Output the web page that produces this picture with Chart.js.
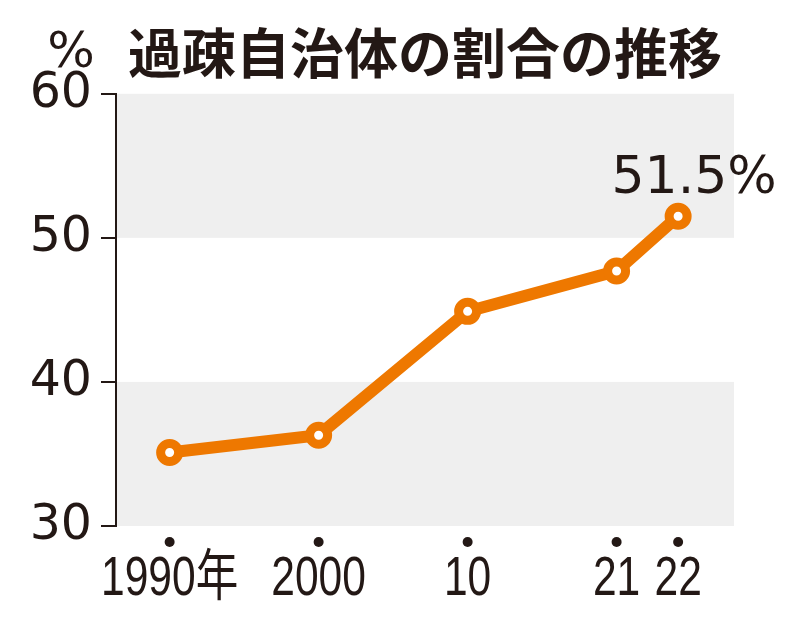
<!DOCTYPE html>
<html><head><meta charset="utf-8">
<script src="https://cdn.jsdelivr.net/npm/chart.js@4.4.1/dist/chart.umd.min.js"></script>
<style>html,body{margin:0;padding:0;background:#fff}canvas{display:block}</style>
</head><body>
<canvas id="c" width="800" height="625"></canvas>
<script>
// ---- data ----
const years = [1990, 2000, 2010, 2021, 2022];
const values = [35.1, 36.3, 44.9, 47.7, 51.5];
const xLabels = ['1990年', '2000', '10', '21', '22'];
const yTicks = [30, 40, 50, 60];
const bands = [[30, 40], [50, 60]];
const titleText = '過疎自治体の割合の推移';
const unitText = '%';

// ---- layout / style ----
const INK = '#231815';
const ORANGE = '#ee7800';
const GAP_LAST = 0.413;    // relative width of the final (2021-22) gap
const YEARS_PER_UNIT = 10; // extrapolation outside the listed years

function warpYear(v) {
  const a = years;
  if (v <= a[0]) return (v - a[0]) / YEARS_PER_UNIT;
  let u = 0;
  for (let i = 0; i < a.length - 1; i++) {
    const w = (i === a.length - 2) ? GAP_LAST : 1;
    if (v <= a[i + 1]) return u + w * (v - a[i]) / (a[i + 1] - a[i]);
    u += w;
  }
  return u + (v - a[a.length - 1]) / YEARS_PER_UNIT;
}

// Year axis: equal spacing between listed years, last gap narrower
class BrokenYearScale extends Chart.LinearScale {
  parse(raw, index) {
    if (raw === null || raw === undefined) return null;
    const v = +raw;
    if (!isFinite(v)) return null;
    return warpYear(v);
  }
}
BrokenYearScale.id = 'brokenyear';
BrokenYearScale.defaults = Chart.LinearScale.defaults;
Chart.register(BrokenYearScale);

const decor = {
  id: 'decor',
  beforeDraw(chart) {
    const {ctx, chartArea: ca, scales: {y}} = chart;
    ctx.save();
    ctx.fillStyle = '#efefef';
    bands.forEach(([lo, hi]) => {
      const t = y.getPixelForValue(hi), b = y.getPixelForValue(lo);
      ctx.fillRect(ca.left, t, ca.right - ca.left, b - t);
    });
    ctx.restore();
  },
  afterDraw(chart) {
    const {ctx, chartArea: ca, scales: {x}} = chart;
    ctx.save();
    ctx.fillStyle = INK;
    // x tick dots and condensed tick labels
    x.ticks.forEach((t, i) => {
      const px = x.getPixelForValue(t.value);
      ctx.beginPath();
      ctx.arc(px, ca.bottom + 16, 5, 0, Math.PI * 2);
      ctx.fill();
      ctx.save();
      ctx.translate(px, ca.bottom + 69);
      ctx.scale(0.76, 1);
      ctx.font = '56px "Liberation Sans", "Noto Sans CJK JP", sans-serif';
      ctx.textAlign = 'center';
      ctx.textBaseline = 'alphabetic';
      ctx.fillText(xLabels[i], 0, 0);
      ctx.restore();
    });
    ctx.font = '50px "DejaVu Sans"';
    ctx.textAlign = 'center';
    ctx.textBaseline = 'alphabetic';
    ctx.fillText(unitText, 71, 67);
    const meta = chart.getDatasetMeta(0);
    const p = meta.data[meta.data.length - 1];
    ctx.font = '52px "DejaVu Sans"';
    ctx.fillText(values[values.length - 1] + '%', p.x + 16, p.y - 23);
    ctx.restore();
  }
};

new Chart(document.getElementById('c'), {
  type: 'line',
  data: {
    datasets: [{
      data: years.map((yr, i) => ({x: yr, y: values[i]})),
      borderColor: ORANGE,
      borderWidth: 12,
      pointRadius: 9,
      pointBorderWidth: 9,
      pointBackgroundColor: '#ffffff',
      pointBorderColor: ORANGE,
      tension: 0,
      clip: false
    }]
  },
  options: {
    responsive: false,
    animation: false,
    devicePixelRatio: 1,
    layout: {padding: {left: 0, right: 66, top: 0, bottom: 0}},
    plugins: {
      legend: {display: false},
      tooltip: {enabled: false},
      title: {
        display: true,
        text: titleText,
        fullSize: false,
        color: INK,
        font: {family: '"Noto Sans CJK JP"', size: 54, weight: 'bold', lineHeight: 1.2},
        padding: {top: 21, bottom: 8}
      }
    },
    scales: {
      x: {
        type: 'brokenyear',
        position: 'bottom',
        bounds: 'data',
        min: 1986.4,
        max: 2025.75,
        afterBuildTicks: s => { s.ticks = years.map(yr => ({value: warpYear(yr)})); },
        afterFit: s => { s.height = 99; },
        grid: {display: false, drawTicks: false},
        border: {display: false},
        ticks: {display: false}
      },
      y: {
        min: 30, max: 60,
        afterBuildTicks: s => { s.ticks = yTicks.map(v => ({value: v})); },
        afterFit: s => { s.width = 116; },
        grid: {drawOnChartArea: false, drawTicks: true, tickLength: 15, color: INK, lineWidth: 2},
        border: {display: true, color: INK, width: 2},
        ticks: {
          padding: 9,
          color: INK,
          font: {family: '"DejaVu Sans"', size: 49}
        }
      }
    }
  },
  plugins: [decor]
});
</script>
</body></html>
